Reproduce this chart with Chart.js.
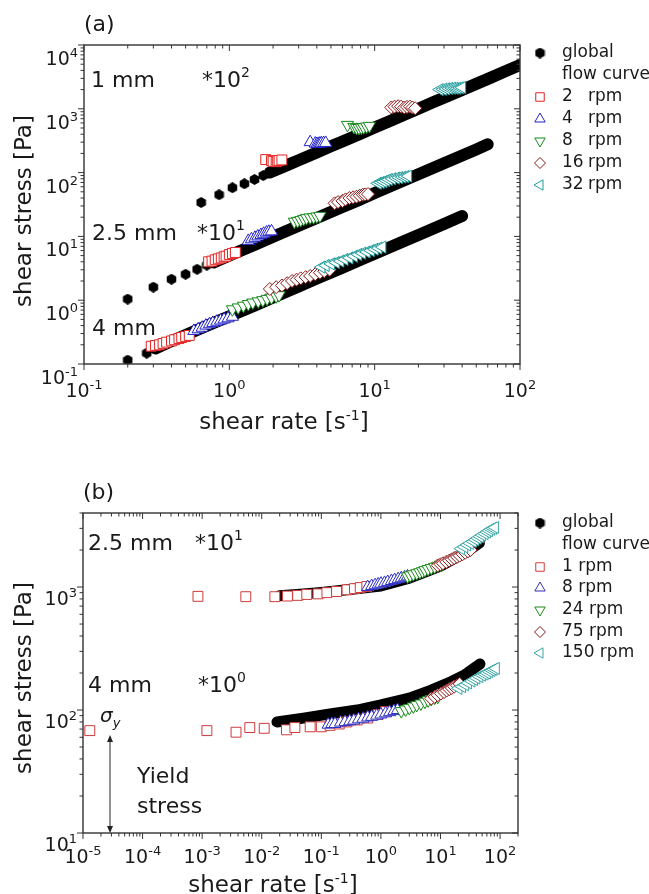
<!DOCTYPE html>
<html>
<head>
<meta charset="utf-8">
<script src="https://cdn.jsdelivr.net/npm/chart.js@4.4.0/dist/chart.umd.min.js"></script>
<style>
  html, body { margin: 0; padding: 0; background: #fff; }
  canvas { position: absolute; left: 0; }
  #chartA { top: 0; }
  #chartB { top: 447px; }
</style>
</head>
<body>
<canvas id="chartA" width="649" height="447"></canvas>
<canvas id="chartB" width="649" height="447"></canvas>
<script>
// ---------- panel (a): gap 1 mm (*100), 2.5 mm (*10), 4 mm ----------
const aSpeeds = ["2", "4", "8", "16", "32"];
const aXTicks = [0.1, 1, 10, 100];
const aYTicks = [0.1, 1, 10, 100, 1000, 10000];

// global flow curve: sparse points at low rate, dense band above
const a1Sparse = [[0.64, 34], [0.85, 45], [1.05, 58], [1.27, 67], [1.49, 78], [1.71, 90]];
const a1Dense = [[1.9, 100], [2.5, 131], [3, 156], [4, 207], [5, 258], [6, 308], [8, 408], [10, 508], [13, 656], [16, 805], [20, 1000], [25, 1250], [32, 1590], [40, 1980], [50, 2460], [63, 3080], [80, 3900], [100, 4850]];
const a2Sparse = [[0.2, 1.04], [0.3, 1.6], [0.4, 2.13], [0.5, 2.55], [0.6, 3.05], [0.7, 3.55]];
const a2Dense = [[0.78, 3.9], [1, 5.0], [1.5, 7.4], [2, 9.9], [3, 14.7], [4, 19.5], [6, 29], [8, 38], [10, 48], [15, 71], [20, 94], [30, 140], [40, 186], [50, 231], [60, 277]];
const a3Sparse = [[0.2, 0.115], [0.27, 0.148]];
const a3Dense = [[0.31, 0.175], [0.4, 0.228], [0.6, 0.34], [0.8, 0.45], [1, 0.56], [1.5, 0.83], [2, 1.1], [3, 1.64], [4, 2.18], [6, 3.24], [8, 4.3], [10, 5.35], [15, 7.96], [20, 10.5], [30, 15.7], [40, 20.8]];

const a2rpm = [[1.78, 160], [1.95, 154], [2.0, 150], [2.1, 148], [2.15, 152], [2.2, 155], [2.3, 158],
  [0.72, 4.0], [0.76, 4.1], [0.8, 4.3], [0.84, 4.45], [0.88, 4.6], [0.92, 4.8], [0.95, 4.9], [1.0, 5.2], [1.05, 5.4], [1.1, 5.6],
  [0.29, 0.19], [0.31, 0.195], [0.33, 0.2], [0.35, 0.21], [0.37, 0.22], [0.4, 0.23], [0.42, 0.24], [0.45, 0.25], [0.47, 0.26], [0.5, 0.27], [0.53, 0.28]];
const a4rpm = [[3.6, 300], [3.9, 285], [4.0, 280], [4.1, 282], [4.2, 285], [4.3, 288], [4.45, 290], [4.6, 292],
  [1.35, 8.5], [1.42, 9.0], [1.5, 9.5], [1.57, 10], [1.65, 10.5], [1.72, 11], [1.8, 11.5], [1.87, 11.8], [1.95, 12],
  [0.57, 0.33], [0.61, 0.35], [0.65, 0.37], [0.69, 0.4], [0.73, 0.42], [0.77, 0.44], [0.82, 0.46], [0.87, 0.48], [0.92, 0.5], [0.98, 0.52], [1.05, 0.55]];
const a8rpm = [[6.5, 560], [7.2, 520], [7.5, 505], [7.8, 500], [8.1, 508], [8.4, 515], [8.8, 528], [9.2, 540],
  [2.8, 17], [2.95, 17.5], [3.1, 18], [3.25, 18.8], [3.4, 19.5], [3.6, 19.8], [3.8, 20], [4.0, 20.5], [4.2, 21],
  [1.05, 0.72], [1.15, 0.77], [1.25, 0.82], [1.35, 0.87], [1.45, 0.92], [1.58, 0.96], [1.7, 1.0], [1.82, 1.05], [1.95, 1.1], [2.1, 1.15], [2.2, 1.2]];
const a16rpm = [[13, 1050], [13.7, 1080], [14.5, 1100], [15.2, 1080], [16, 1050], [16.7, 1070], [17.5, 1080], [18.2, 1050], [19, 1020],
  [5.3, 33], [5.6, 34.5], [6, 36], [6.3, 38], [6.7, 40], [7.1, 41], [7.5, 42], [7.9, 43.5], [8.3, 45], [8.6, 45.5], [9, 46],
  [1.9, 1.5], [2.1, 1.6], [2.3, 1.7], [2.5, 1.85], [2.7, 2.0], [2.9, 2.1], [3.1, 2.2], [3.35, 2.3], [3.6, 2.4], [3.9, 2.55], [4.2, 2.7], [4.5, 2.85], [4.9, 3.0]];
const a32rpm = [[28, 2000], [29.5, 2020], [31, 2050], [32.5, 2080], [34, 2100], [35.5, 2100], [37, 2100], [38.5, 2130], [40, 2150],
  [10.5, 68], [11, 70], [11.5, 72], [12, 75], [12.5, 78], [13.2, 80], [14, 82], [14.7, 83.5], [15.5, 85], [16.2, 86.5], [17, 88],
  [4.3, 3.3], [4.6, 3.5], [5, 3.7], [5.4, 3.9], [5.8, 4.1], [6.2, 4.35], [6.7, 4.6], [7.2, 4.9], [7.7, 5.2], [8.2, 5.45], [8.8, 5.7], [9.4, 6.0], [10, 6.3], [10.6, 6.55], [11.3, 6.8]];

// ---------- panel (b): gap 2.5 mm (*10), 4 mm ----------
const bSpeeds = ["1", "8", "24", "75", "150"];
const bXTicks = [1e-5, 1e-4, 1e-3, 1e-2, 1e-1, 1, 10, 100];
const bYTicks = [10, 100, 1000];

const bUpperGlobal = [[0.02, 850], [0.05, 880], [0.1, 905], [0.3, 955], [1, 1020], [3, 1180], [10, 1480], [20, 1780], [30, 1990], [45, 2280]];
const bLowerGlobal = [[0.018, 80], [0.05, 86], [0.14, 93], [0.4, 100], [1, 110], [3, 125], [7, 145], [15, 170], [25, 192], [46, 237]];

const b1rpm = [[8.5e-4, 840], [5.4e-3, 835], [0.0166, 835], [0.027, 845], [0.04, 855], [0.057, 870], [0.088, 880], [0.124, 900], [0.18, 920], [0.27, 950], [0.36, 970], [0.45, 990], [0.58, 1010],
  [1.3e-5, 68], [1.2e-3, 68], [3.7e-3, 66], [6.3e-3, 72], [0.011, 71], [0.026, 69], [0.036, 72], [0.065, 73], [0.1, 73], [0.14, 75], [0.2, 77], [0.27, 80], [0.4, 83], [0.6, 86], [0.9, 92], [1.2, 97]];
const b8rpm = [[0.6, 1000], [0.7, 1020], [0.8, 1035], [0.9, 1050], [1.0, 1065], [1.15, 1080], [1.3, 1100], [1.5, 1120], [1.7, 1140], [1.95, 1160], [2.2, 1180], [2.5, 1200], [2.8, 1220],
  [0.13, 76], [0.15, 77], [0.17, 77], [0.21, 79], [0.25, 80], [0.3, 81], [0.35, 82], [0.42, 84], [0.5, 85], [0.6, 87], [0.7, 88], [0.85, 90], [1.0, 92], [1.2, 94], [1.4, 96], [1.65, 98], [1.9, 100]];
const b24rpm = [[2.8, 1220], [3.1, 1245], [3.5, 1270], [4, 1295], [4.5, 1320], [5, 1345], [5.5, 1370], [6.2, 1400], [7, 1430], [8, 1460], [9, 1490], [10, 1520], [11, 1550],
  [2.2, 98], [2.6, 101], [3, 104], [3.5, 107], [4, 110], [4.7, 113], [5.5, 117], [6.2, 120], [7, 123], [8, 126], [9, 128]];
const b75rpm = [[9, 1500], [10, 1530], [11, 1560], [12.5, 1600], [14, 1640], [15.5, 1680], [17, 1720], [19, 1760], [21, 1800], [23.5, 1850], [26, 1900], [29, 1950], [32, 2000],
  [7, 124], [8, 128], [9, 132], [10.2, 136], [11.5, 140], [12.7, 144], [14, 148], [15.5, 151], [17, 155], [19, 159], [21, 163]];
const b150rpm = [[22, 2050], [25, 2120], [28, 2200], [31, 2270], [35, 2350], [38.5, 2420], [42, 2500], [46, 2570], [50, 2650], [55, 2720], [60, 2800], [65, 2870], [70, 2950], [76, 3000], [82, 3050],
  [20, 150], [23, 155], [26, 160], [29, 166], [33, 172], [36.5, 177], [40, 182], [45, 187], [50, 192], [55, 196], [60, 200], [66, 205], [72, 210], [78, 214], [85, 218]];

const FONT = '"DejaVu Sans", Verdana, sans-serif';
const INK = "#1a1a1a";

// marker kinds, in legend order: square, up, down, diamond, left
const KINDS = [
  { style: "rect", rot: 0 },
  { style: "triangle", rot: 0 },
  { style: "triangle", rot: 180 },
  { style: "rectRot", rot: 0 },
  { style: "triangle", rot: -90 },
];
const COLORS_A = ["#e42222", "#2222c8", "#14891a", "#8c1616", "#1f9c9c"];
const COLORS_B = ["#d23a3a", "#3030c0", "#1a8a1a", "#8c1616", "#3aa6a6"];

function hexagon(d) {
  const c = document.createElement("canvas");
  c.width = d;
  c.height = d;
  const g = c.getContext("2d");
  const r = d / 2;
  g.beginPath();
  for (let i = 0; i < 6; i++) {
    const t = (Math.PI / 3) * i - Math.PI / 2;
    g.lineTo(r + r * Math.cos(t), r + r * Math.sin(t));
  }
  g.closePath();
  g.fillStyle = "#000";
  g.fill();
  return c;
}
const HEX = hexagon(11);

const pts = (arr) => arr.map(([x, y]) => ({ x, y }));

function markers(data, kind, color, r) {
  return {
    data: pts(data),
    showLine: false,
    pointStyle: kind.style,
    pointRotation: kind.rot,
    pointRadius: r,
    pointBackgroundColor: "#fff",
    pointBorderColor: color,
    pointBorderWidth: 1,
  };
}
function band(data, w) {
  return {
    data: pts(data),
    showLine: true,
    borderColor: "#000",
    borderWidth: w,
    borderCapStyle: "round",
    borderJoinStyle: "round",
    pointRadius: 0,
    clip: 0,
  };
}
function dots(data) {
  return { data: pts(data), showLine: false, pointStyle: HEX, pointRadius: 5 };
}

function logTicks(min, max) {
  const out = [];
  for (let e = Math.floor(Math.log10(min)); e <= Math.ceil(Math.log10(max)); e++) {
    for (let m = 1; m <= 9; m++) {
      const v = m * Math.pow(10, e);
      if (v >= min * 0.999 && v <= max * 1.001) out.push({ v, major: m === 1 });
    }
  }
  return out;
}

// draw runs of text: [text, size, dy, italic]
function runsWidth(ctx, parts) {
  let w = 0;
  parts.forEach(([t, s, dy, it]) => {
    ctx.font = (it ? "italic " : "") + s + "px " + FONT;
    w += ctx.measureText(t).width;
  });
  return w;
}
function runs(ctx, x, y, parts) {
  let cx = x;
  parts.forEach(([t, s, dy = 0, it = false]) => {
    ctx.font = (it ? "italic " : "") + s + "px " + FONT;
    ctx.fillText(t, cx, y + dy);
    cx += ctx.measureText(t).width;
  });
}
function pow10(v) {
  const e = Math.round(Math.log10(v));
  return [["10", 19], [String(e), 13, -8]];
}

const deco = {
  id: "deco",
  afterDraw(chart, args, o) {
    const ctx = chart.ctx;
    const a = chart.chartArea;
    const xs = chart.scales.x;
    const ys = chart.scales.y;
    ctx.save();
    ctx.fillStyle = INK;
    ctx.textBaseline = "alphabetic";

    // frame
    ctx.strokeStyle = "#333";
    ctx.lineWidth = 1.4;
    ctx.strokeRect(a.left, a.top, a.right - a.left, a.bottom - a.top);

    // ticks: outward on left/bottom, inward on top/right
    ctx.lineWidth = 1;
    ctx.beginPath();
    logTicks(xs.min, xs.max).forEach((t) => {
      const p = xs.getPixelForValue(t.v);
      const len = t.major ? 6 : 3.5;
      ctx.moveTo(p, a.bottom);
      ctx.lineTo(p, a.bottom + len);
      ctx.moveTo(p, a.top);
      ctx.lineTo(p, a.top + len);
    });
    logTicks(ys.min, ys.max).forEach((t) => {
      const p = ys.getPixelForValue(t.v);
      const len = t.major ? 6 : 3.5;
      ctx.moveTo(a.left, p);
      ctx.lineTo(a.left - len, p);
      ctx.moveTo(a.right, p);
      ctx.lineTo(a.right - len, p);
    });
    ctx.stroke();

    // tick labels
    o.xLabels.forEach((v) => {
      const parts = pow10(v);
      const w = runsWidth(ctx, parts);
      runs(ctx, xs.getPixelForValue(v) - w / 2, a.bottom + o.xLabelDy, parts);
    });
    o.yLabels.forEach((v) => {
      const parts = pow10(v);
      const w = runsWidth(ctx, parts);
      runs(ctx, a.left - 6 - w, ys.getPixelForValue(v) + o.yLabelDy, parts);
    });

    // axis titles
    const xt = [["shear rate [s", 23], ["-1", 14, -9], ["]", 23]];
    runs(ctx, o.xTitle[0] - runsWidth(ctx, xt) / 2, o.xTitle[1], xt);
    const yt = [["shear stress [Pa]", 23]];
    ctx.save();
    ctx.translate(o.yTitle[0], o.yTitle[1]);
    ctx.rotate(-Math.PI / 2);
    runs(ctx, -runsWidth(ctx, yt) / 2, 0, yt);
    ctx.restore();

    // free texts
    o.texts.forEach(([x, y, parts]) => runs(ctx, x, y, parts));

    // arrow (yield stress)
    if (o.arrow) {
      const [x, y0, y1] = o.arrow;
      ctx.strokeStyle = "#222";
      ctx.lineWidth = 1;
      ctx.beginPath();
      ctx.moveTo(x, y0 + 3);
      ctx.lineTo(x, y1 - 3);
      ctx.stroke();
      ctx.fillStyle = "#222";
      ctx.beginPath();
      ctx.moveTo(x, y0);
      ctx.lineTo(x - 3, y0 + 7);
      ctx.lineTo(x + 3, y0 + 7);
      ctx.closePath();
      ctx.moveTo(x, y1);
      ctx.lineTo(x - 3, y1 - 7);
      ctx.lineTo(x + 3, y1 - 7);
      ctx.closePath();
      ctx.fill();
      ctx.fillStyle = INK;
    }

    // legend
    const L = o.legend;
    ctx.textBaseline = "middle";
    ctx.drawImage(HEX, L.x - HEX.width / 2, L.rows[0] - HEX.height / 2);
    ctx.font = "17px " + FONT;
    ctx.fillText("global", L.tx, L.rows[0]);
    ctx.fillText("flow curve", L.tx, L.rows[1]);
    L.speeds.forEach((s, i) => {
      const y = L.rows[i + 2];
      const k = KINDS[i];
      ctx.fillStyle = "#fff";
      ctx.strokeStyle = L.colors[i];
      ctx.lineWidth = 1;
      Chart.helpers.drawPoint(ctx, { pointStyle: k.style, rotation: k.rot, radius: k.style === "rectRot" ? 5.5 : 6, borderWidth: 1 }, L.x, y);
      ctx.fillStyle = INK;
      ctx.font = "17px " + FONT;
      if (L.alignRpm) {
        ctx.fillText(s, L.tx, y);
        ctx.fillText("rpm", L.tx + 26, y);
      } else {
        ctx.fillText(s + " rpm", L.tx, y);
      }
    });
    ctx.restore();
  },
};

function logAxis(min, max, fit) {
  return {
    type: "logarithmic",
    min,
    max,
    grid: { display: false, drawTicks: false },
    border: { display: false },
    ticks: { display: false },
    afterFit: fit,
  };
}

function makeChart(id, datasets, scales, padding, decoOpts) {
  return new Chart(document.getElementById(id), {
    type: "scatter",
    data: { datasets },
    options: {
      responsive: false,
      animation: false,
      events: [],
      layout: { padding },
      scales,
      plugins: { legend: { display: false }, tooltip: { enabled: false }, deco: decoOpts },
    },
    plugins: [deco],
  });
}

const R = [7, 7, 7, 6.5, 7];
const aSeries = [a2rpm, a4rpm, a8rpm, a16rpm, a32rpm];
const bSeries = [b1rpm, b8rpm, b24rpm, b75rpm, b150rpm];

makeChart(
  "chartA",
  [
    ...aSeries.map((d, i) => markers(d, KINDS[i], COLORS_A[i], R[i])).reverse(),
    band(a1Dense, 12),
    band(a2Dense, 12),
    band(a3Dense, 12),
    dots(a1Sparse),
    dots(a2Sparse),
    dots(a3Sparse),
  ],
  {
    x: logAxis(0.1, 100, (s) => { s.height = 83; }),
    y: logAxis(0.1, 10000, (s) => { s.width = 84; }),
  },
  { left: 0, right: 129, top: 45, bottom: 0 },
  {
    xLabels: aXTicks,
    yLabels: aYTicks,
    xLabelDy: 33,
    yLabelDy: 20,
    xTitle: [284, 429],
    yTitle: [31, 211],
    texts: [
      [84, 31, [["(a)", 22]]],
      [91, 87, [["1 mm", 22]]],
      [202, 87, [["*10", 22], ["2", 14, -10]]],
      [92, 240, [["2.5 mm", 22]]],
      [197, 240, [["*10", 22], ["1", 14, -10]]],
      [92, 335, [["4 mm", 22]]],
    ],
    legend: { x: 540, tx: 562, rows: [53, 75, 97, 119, 141, 163, 185], speeds: aSpeeds, colors: COLORS_A, alignRpm: true },
  }
);

makeChart(
  "chartB",
  [
    ...bSeries.map((d, i) => markers(d, KINDS[i], COLORS_B[i], R[i])).reverse(),
    band(bUpperGlobal, 11),
    band(bLowerGlobal, 11),
  ],
  {
    x: logAxis(1e-5, 200, (s) => { s.height = 61; }),
    y: logAxis(10, 4000, (s) => { s.width = 83; }),
  },
  { left: 0, right: 131, top: 66, bottom: 0 },
  {
    xLabels: bXTicks,
    yLabels: bYTicks,
    xLabelDy: 30,
    yLabelDy: 18,
    xTitle: [273, 445],
    yTitle: [31, 231],
    texts: [
      [83, 52, [["(b)", 22]]],
      [88, 103, [["2.5 mm", 22]]],
      [195, 103, [["*10", 22], ["1", 14, -10]]],
      [88, 245, [["4 mm", 22]]],
      [198, 245, [["*10", 22], ["0", 14, -10]]],
      [100, 275, [["σ", 20, 0, true], ["y", 13, 5, true]]],
      [137, 336, [["Yield", 22]]],
      [137, 366, [["stress", 22]]],
    ],
    arrow: [110, 288, 386],
    legend: { x: 540, tx: 562, rows: [76, 98, 120, 141, 163, 185, 206], speeds: bSpeeds, colors: COLORS_B, alignRpm: false },
  }
);
</script>
</body>
</html>
